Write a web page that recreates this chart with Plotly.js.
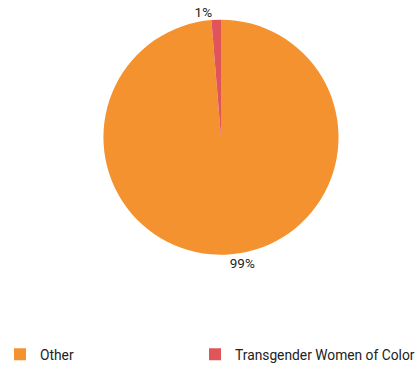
<!DOCTYPE html>
<html>
<head>
<meta charset="utf-8">
<script src="https://cdn.plot.ly/plotly-3.0.1.min.js"></script>
<style>html,body{margin:0;padding:0;background:#fff;}#chart{width:419px;height:370px;}</style>
</head>
<body>
<div id="chart"></div>
<script>
const labels = ["Other", "Transgender Women of Color"];
const values = [98.7, 1.3];
const colors = ["#F4922F", "#E0555A"];
const legendWidths = [150, 178];

const data = [{
  type: "pie",
  labels: labels,
  values: values,
  marker: {colors: colors, line: {width: 0}},
  sort: false,
  direction: "clockwise",
  rotation: 0,
  textposition: "outside",
  texttemplate: "%{percent:.0%}",
  textfont: {family: "Roboto", size: 13.5, color: "#222222"},
  hoverinfo: "label+percent",
  domain: {x: [0.2422, 0.8126], y: [0.3, 0.9459]},
  automargin: false,
  showlegend: false
}];

// legend entries (one per slice) so each entry can get its own width
labels.forEach((lab, i) => {
  data.push({
    type: "scatter",
    mode: "markers",
    name: lab,
    x: [null],
    y: [null],
    marker: {symbol: "square", size: 12, color: colors[i], line: {width: 0}},
    legendwidth: legendWidths[i],
    showlegend: true,
    hoverinfo: "skip"
  });
});

const layout = {
  width: 419,
  height: 370,
  margin: {l: 0, r: 0, t: 0, b: 0},
  paper_bgcolor: "#ffffff",
  plot_bgcolor: "rgba(0,0,0,0)",
  font: {family: "Roboto", size: 13.8, color: "#222222"},
  xaxis: {visible: false},
  yaxis: {visible: false},
  showlegend: true,
  legend: {
    orientation: "h",
    x: 0,
    xanchor: "left",
    y: 0.027,
    yanchor: "middle",
    traceorder: "normal",
    font: {family: "Roboto", size: 13.8, color: "#222222"}
  }
};

Plotly.newPlot("chart", data, layout, {displayModeBar: false, staticPlot: true});
</script>
</body>
</html>
